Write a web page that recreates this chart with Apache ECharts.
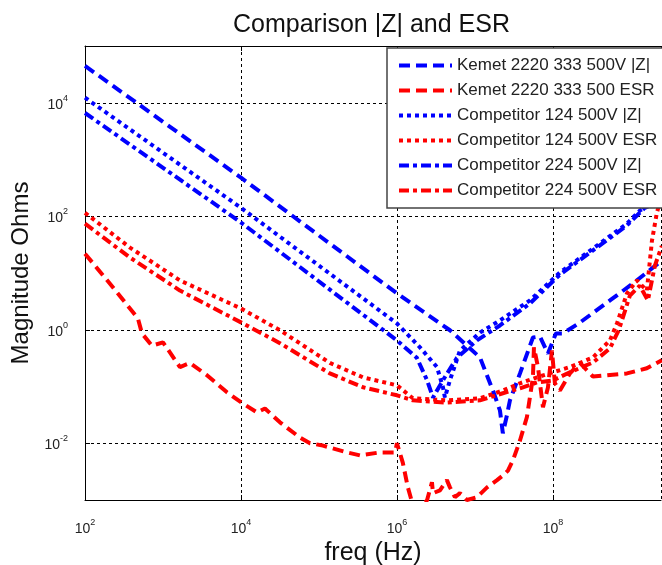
<!DOCTYPE html>
<html>
<head>
<meta charset="utf-8">
<script src="https://cdn.jsdelivr.net/npm/echarts@6/dist/echarts.min.js"></script>
<style>html,body{margin:0;padding:0;background:#fff}#c{width:662px;height:565px}</style>
</head>
<body>
<div id="c"></div>
<script>
// [freq Hz, ohms]
const kemetZ = [[1e2,4.47e4],[1e4,479],[1e6,4.37],[4.78e6,0.98],[1.16e7,0.325],[1.7e7,0.085],[2.09e7,0.038],[2.28e7,0.015],[2.57e7,0.031],[2.81e7,0.057],[3.78e7,0.17],[5.54e7,0.73],[6.81e7,0.76],[8.63e7,0.38],[1.09e8,0.86],[1.34e8,0.86],[2.22e8,1.34],[5.38e8,3.28],[1.06e9,6.53],[2.49e9,16.6]];
const kemetEsr = [[1e2,21.9],[229,5.56],[477,1.58],[538,0.86],[722,0.525],[1000,0.6],[1650,0.22],[2220,0.26],[3660,0.158],[6620,0.079],[1.06e4,0.05],[1.6e4,0.035],[2.03e4,0.041],[3.16e4,0.0234],[5.7e4,0.0126],[7.67e4,0.01],[1.12e5,0.0091],[2.28e5,0.0069],[3.36e5,0.0061],[6.05e5,0.0069],[9.43e5,0.0069],[1e6,0.01],[1.19e6,0.0045],[1.38e6,0.00167],[1.6e6,0.00081],[1.97e6,0.0007],[2.43e6,0.00099],[2.81e6,0.00205],[2.9e6,0.00132],[3.56e6,0.00148],[4.37e6,0.00224],[4.78e6,0.00167],[5.54e6,0.00112],[6.42e6,0.00132],[7.89e6,0.001],[1.06e7,0.00112],[1.43e7,0.00167],[1.92e7,0.00224],[2.28e7,0.0027],[2.65e7,0.0033],[3.07e7,0.005],[3.78e7,0.0112],[4.64e7,0.029],[5.54e7,0.145],[5.71e7,0.49],[6.43e7,0.22],[7.45e7,0.043],[8.63e7,0.096],[9.71e7,0.43],[1.06e8,0.114],[1.23e8,0.085],[1.65e8,0.17],[2.22e8,0.26],[3.26e8,0.15],[8.89e8,0.17],[1.6e9,0.21],[2.49e9,0.29]];
const comp124Z = [[1e2,1.23e4],[1e4,141],[1e6,1.29],[1.97e6,0.49],[3.26e6,0.22],[3.89e6,0.097],[4.12e6,0.064],[4.78e6,0.129],[6.42e6,0.43],[1.16e7,0.89],[2.09e7,1.46],[5.07e7,3.29],[1.23e8,10.2],[3.26e8,27],[8.89e8,74],[1.3e9,126],[2.35e9,190]];
const comp124Esr = [[1e2,115],[378,28],[1650,7.4],[1e4,2.37],[3.16e4,0.98],[1.38e5,0.26],[3.66e5,0.145],[1e6,0.105],[1.6e6,0.062],[4.37e6,0.057],[1.16e7,0.062],[2.28e7,0.085],[3.78e7,0.114],[6.24e7,0.145],[1e8,0.178],[1.65e8,0.22],[3.26e8,0.325],[5.38e8,0.65],[6.62e8,1.29],[8.89e8,4.37],[1.19e9,7.4],[1.6e9,4.9],[1.86e9,37],[2.15e9,115],[2.49e9,230]];
const comp224Z = [[1e2,6.6e3],[1e4,77.6],[1e6,0.65],[1.8e6,0.32],[2.43e6,0.129],[2.9e6,0.064],[3.89e6,0.129],[5.87e6,0.32],[1.06e7,0.65],[2.09e7,1.19],[5.07e7,2.9],[1.23e8,9.4],[3.26e8,25],[8.89e8,69],[1.51e9,142],[2.49e9,240]];
const comp224Esr = [[1e2,74],[378,18.7],[1650,4.9],[1e4,1.35],[3.16e4,0.58],[1.38e5,0.17],[3.66e5,0.097],[1e6,0.07],[1.6e6,0.057],[4.37e6,0.052],[1.16e7,0.057],[2.28e7,0.076],[3.78e7,0.093],[6.24e7,0.118],[1e8,0.128],[1.65e8,0.178],[3.26e8,0.265],[5.38e8,0.47],[6.98e8,0.98],[9.7e8,4],[1.3e9,6],[1.65e9,3.3],[2.03e9,13.5],[2.49e9,30]];

const names = ['Kemet 2220 333 500V |Z|','Kemet 2220 333 500 ESR','Competitor 124 500V |Z|','Competitor 124 500V ESR','Competitor 224 500V |Z|','Competitor 224 500V ESR'];
const font = "'Liberation Sans', Arial, sans-serif";
const BLUE = '#0000ff', RED = '#ff0000';
const DASH = [11, 6], DOT = [4, 4], DASHDOT = [10, 4, 4, 4];

function sup(v){ const e = Math.round(Math.log10(v)); return '{b|10}{s|' + e + '}'; }
const rich = {
  b:{fontSize:14, fontFamily:font, color:'#222', verticalAlign:'bottom', lineHeight:18},
  s:{fontSize:9, fontFamily:font, color:'#222', verticalAlign:'top', lineHeight:10}
};

function line(name, data, color, dash){
  return {name, type:'line', data, symbol:'none', clip:true, animation:false,
    lineStyle:{color, width:4, type:dash, cap:'butt'}, itemStyle:{color}};
}

const chart = echarts.init(document.getElementById('c'));
chart.setOption({
  backgroundColor:'#fff',
  animation:false,
  title:{text:'Comparison |Z| and ESR', left:228, top:8, textStyle:{fontFamily:font, fontSize:25, fontWeight:'normal', color:'#111'}},
  grid:{left:85, top:46, bottom:65, right:1, outerBoundsMode:'none'},
  legend:{orient:'vertical', left:387, top:48, itemWidth:53, itemHeight:14, itemGap:8,
    data:names,
    itemStyle:{opacity:0, borderWidth:0},
    lineStyle:{width:4},
    padding:[9,10,9,10], backgroundColor:'#fff', borderColor:'#444', borderWidth:1.5, borderRadius:0,
    textStyle:{fontFamily:font, fontSize:17, color:'#222'}},
  xAxis:[{type:'log', logBase:100, min:1e2, max:2.43e9,
    name:'freq (Hz)', nameLocation:'middle', nameGap:26,
    nameTextStyle:{fontFamily:font, fontSize:25, color:'#111'},
    axisLine:{lineStyle:{color:'#000', width:1}},
    axisTick:{inside:true, length:5, lineStyle:{color:'#000'}},
    axisLabel:{formatter:sup, rich, margin:18, showMaxLabel:false},
    splitLine:{show:true, lineStyle:{color:'#000', type:[3,3], width:1}}},
   {type:'log', logBase:100, min:1e2, max:2.43e9, position:'top',
    axisLine:{lineStyle:{color:'#000', width:1}},
    axisTick:{inside:true, length:5, lineStyle:{color:'#000'}},
    axisLabel:{show:false}, splitLine:{show:false}}],
  yAxis:{type:'log', logBase:100, min:1e-3, max:1e5,
    name:'Magnitude Ohms', nameLocation:'middle', nameGap:50,
    nameTextStyle:{fontFamily:font, fontSize:24, color:'#111'},
    axisLine:{show:true, lineStyle:{color:'#000', width:1}},
    axisTick:{show:true, inside:true, length:5, lineStyle:{color:'#000'}},
    axisLabel:{formatter:sup, rich, margin:17, showMinLabel:false, showMaxLabel:false},
    splitLine:{show:true, lineStyle:{color:'#000', type:[3,3], width:1}}},
  series:[
    line(names[0], kemetZ, BLUE, DASH),
    line(names[1], kemetEsr, RED, DASH),
    line(names[2], comp124Z, BLUE, DOT),
    line(names[3], comp124Esr, RED, DOT),
    line(names[4], comp224Z, BLUE, DASHDOT),
    line(names[5], comp224Esr, RED, DASHDOT)
  ]
});
</script>
</body>
</html>
